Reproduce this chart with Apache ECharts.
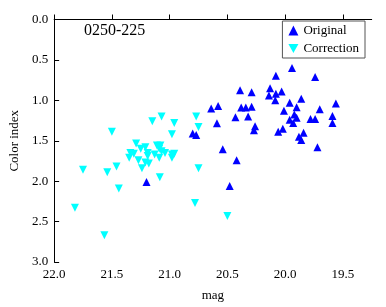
<!DOCTYPE html>
<html>
<head>
<meta charset="utf-8">
<script src="https://cdn.jsdelivr.net/npm/echarts@6/dist/echarts.min.js"></script>
<style>
  html, body { margin: 0; padding: 0; background: #fff; }
  #chart { width: 386px; height: 307px; }
</style>
</head>
<body>
<div id="chart"></div>
<script>
// 数据：mag, color index
var original = [
  [19.94, 0.60], [20.08, 0.695], [19.74, 0.71], [20.39, 0.875], [20.29, 0.90],
  [20.13, 0.85], [20.14, 0.94], [20.08, 0.92], [20.03, 0.89], [20.085, 1.0],
  [19.86, 0.98], [19.96, 1.03], [19.90, 1.085], [19.70, 1.11], [19.56, 1.04],
  [20.01, 1.13], [19.92, 1.175], [19.90, 1.215], [19.96, 1.24], [19.93, 1.28],
  [19.78, 1.23], [19.74, 1.23], [19.59, 1.195], [19.59, 1.28], [20.02, 1.35],
  [20.06, 1.39], [19.88, 1.45], [19.84, 1.40], [19.86, 1.49], [19.72, 1.58],
  [20.64, 1.10], [20.58, 1.07], [20.38, 1.09], [20.34, 1.09], [20.29, 1.08],
  [20.43, 1.21], [20.32, 1.20], [20.59, 1.285], [20.26, 1.32], [20.27, 1.37],
  [20.80, 1.41], [20.77, 1.43], [20.54, 1.605], [20.42, 1.74], [20.48, 2.06],
  [21.20, 2.01]
];
var correction = [
  [21.82, 2.33], [21.75, 1.86], [21.565, 2.67], [21.54, 1.89], [21.46, 1.82],
  [21.44, 2.09], [21.50, 1.39], [21.085, 1.95], [20.98, 1.67], [20.75, 1.84],
  [20.78, 2.27], [20.50, 2.43], [20.77, 1.20], [20.75, 1.33], [21.15, 1.26],
  [21.07, 1.20], [20.96, 1.28], [20.98, 1.42],
  [21.34, 1.65], [21.31, 1.66], [21.29, 1.535], [21.25, 1.60], [21.21, 1.58],
  [21.19, 1.65], [21.35, 1.71], [21.27, 1.74], [21.21, 1.77], [21.18, 1.78],
  [21.24, 1.84], [21.19, 1.69], [21.11, 1.56], [21.08, 1.56], [21.09, 1.60],
  [21.07, 1.63], [21.04, 1.65], [20.96, 1.66], [20.98, 1.71], [21.09, 1.71],
  [21.13, 1.67]
];
var magTicks = [22.0, 21.5, 21.0, 20.5, 20.0, 19.5];

var font = "Liberation Serif";
var myChart = echarts.init(document.getElementById("chart"));

var option = {
  animation: false,
  textStyle: { fontFamily: font },
  title: {
    text: "0250-225",
    left: 79,
    top: 18,
    textStyle: { fontFamily: font, fontSize: 16, fontWeight: "normal", color: "#000" },
  },
  legend: {
    orient: "vertical",
    right: 21,
    top: 21,
    padding: [3, 6, 3, 6],
    itemGap: 5,
    itemWidth: 10,
    itemHeight: 10,
    borderColor: "#555",
    borderWidth: 1,
    textStyle: { fontFamily: font, fontSize: 13, color: "#000" },
    data: ["Original", "Correction"],
  },
  grid: {
    left: 51,
    top: 19.5,
    right: 14.3,
    bottom: 43.7,
  },
  xAxis: {
    type: "value",
    name: "mag",
    nameLocation: "middle",
    nameGap: 27,
    nameTextStyle: { fontFamily: font, fontSize: 13, color: "#000" },
    inverse: true,
    min: 19.25,
    max: 22.0,
    splitLine: { show: false },
    axisLine: { lineStyle: { color: "#000", width: 1 } },
    axisTick: { inside: true, length: 5, customValues: magTicks, lineStyle: { color: "#000" } },
    axisLabel: {
      customValues: magTicks,
      color: "#000",
      fontSize: 13,
      fontFamily: font,
      margin: 6,
      formatter: function (v) { return v.toFixed(1); },
    },
  },
  yAxis: {
    type: "value",
    name: "Color index",
    nameLocation: "middle",
    nameGap: 31,
    nameTextStyle: { fontFamily: font, fontSize: 13, color: "#000" },
    inverse: true,
    min: 0,
    max: 3,
    interval: 0.5,
    splitLine: { show: false },
    axisLine: { show: true, lineStyle: { color: "#000", width: 1 } },
    axisTick: { show: true, inside: true, length: 5, lineStyle: { color: "#000" } },
    axisLabel: {
      color: "#000",
      fontSize: 13,
      fontFamily: font,
      margin: 6,
      formatter: function (v) { return v.toFixed(1); },
    },
  },
  series: [
    {
      name: "Original",
      type: "scatter",
      symbol: "triangle",
      symbolSize: 8,
      itemStyle: { color: "#0000ff", opacity: 1 },
      data: original,
    },
    {
      name: "Correction",
      type: "scatter",
      symbol: "path://M0,0 L10,0 L5,9 Z",
      symbolSize: 8,
      itemStyle: { color: "#00ffff", opacity: 1 },
      data: correction,
    },
  ],
};

myChart.setOption(option);
window.addEventListener("resize", myChart.resize);
</script>
</body>
</html>
